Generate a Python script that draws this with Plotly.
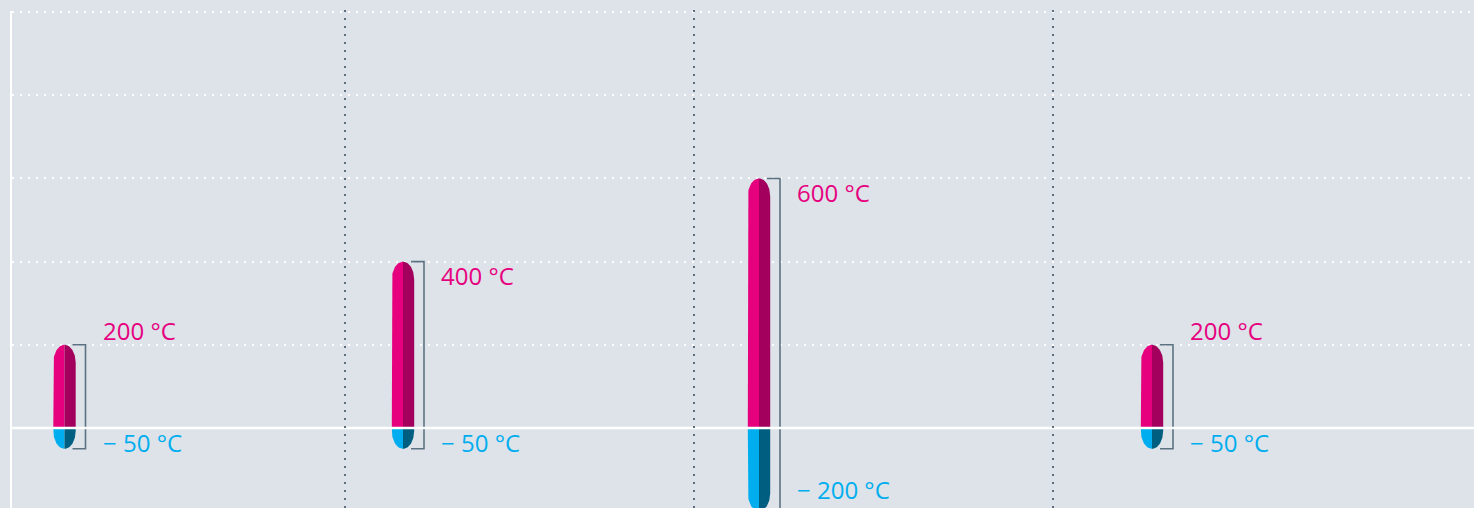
import numpy as np
import plotly.graph_objects as go

# ---------------- data ----------------
categories = ["Gerät 1", "Gerät 2", "Gerät 3", "Gerät 4"]
max_temp = [200, 400, 600, 200]
min_temp = [-50, -50, -200, -50]
max_labels = ["200 °C", "400 °C", "600 °C", "200 °C"]
min_labels = ["− 50 °C", "− 50 °C", "− 200 °C", "− 50 °C"]
grid_values = [200, 400, 600, 800, 1000]

# ---------------- layout constants ----------------
W, H = 1474, 508
ML, MT = 12, 11
Y_RANGE = [-192.3, 1002.5]
X_RANGE = [ML, W]
THERMO_X = [64.5, 403, 759, 1152]
DIVIDER_X = [345, 694, 1053]
HI_OFFSET = [35, -33, -33, 35]     # label offset (°C) relative to max
LO_OFFSET = [14, 14, 51, 14]       # label offset (°C) relative to min

BG = "#dde3e9"
PINK = "#e6007e"
PINK_DARK = "#a3005d"
BLUE = "#00aeef"
BLUE_DARK = "#005f80"
BRACKET = "#5c7282"
DIVIDER = "#5b6f7e"

R_PX = 11.2        # half width of the capsule (px)
CAP_PX = 18.0      # height of the rounded cap (px)
scale_y = (H - MT) / (Y_RANGE[1] - Y_RANGE[0])
RY = CAP_PX / scale_y

fig = go.Figure()


def half(cx, end, side, top=True, n=30):
    """Polygon of one half (left/right) of a capsule segment from 0 to end."""
    if top:
        c = end - RY
        t = np.linspace(np.pi, np.pi / 2, n) if side == "left" else np.linspace(np.pi / 2, 0, n)
    else:
        c = end + RY
        t = np.linspace(np.pi, 1.5 * np.pi, n) if side == "left" else np.linspace(1.5 * np.pi, 2 * np.pi, n)
    ax = cx + R_PX * np.cos(t)
    ay = c + RY * np.sin(t)
    if side == "left":
        xs = [cx - R_PX] + list(ax) + [cx]
    else:
        xs = [cx] + list(ax) + [cx + R_PX]
    ys = [0] + list(ay) + [0]
    return xs, ys


for i, cat in enumerate(categories):
    cx = THERMO_X[i]
    mx, mn = max_temp[i], min_temp[i]
    # bracket
    bx = cx + 21
    fig.add_trace(go.Scatter(
        x=[cx + 8, bx, bx, cx + 8], y=[mx, mx, mn, mn],
        mode="lines", line=dict(color=BRACKET, width=1.6),
        hoverinfo="skip", showlegend=False))
    # pink (positive) part
    for side, col in (("left", PINK), ("right", PINK_DARK)):
        xs, ys = half(cx, mx, side, top=True)
        fig.add_trace(go.Scatter(x=xs, y=ys, fill="toself", fillcolor=col,
                                 mode="lines", line=dict(width=0, color=col),
                                 hoverinfo="skip", showlegend=False, name=cat))
    # blue (negative) part
    for side, col in (("left", BLUE), ("right", BLUE_DARK)):
        xs, ys = half(cx, mn, side, top=False)
        fig.add_trace(go.Scatter(x=xs, y=ys, fill="toself", fillcolor=col,
                                 mode="lines", line=dict(width=0, color=col),
                                 hoverinfo="skip", showlegend=False, name=cat))
    # labels
    fig.add_annotation(x=cx + 36, y=mx + HI_OFFSET[i], text=max_labels[i],
                       xanchor="left", yanchor="middle", showarrow=False,
                       font=dict(family="Open Sans", size=24, color=PINK))
    fig.add_annotation(x=cx + 36, y=mn + LO_OFFSET[i], text=min_labels[i],
                       xanchor="left", yanchor="middle", showarrow=False,
                       font=dict(family="Open Sans", size=24, color=BLUE))

shapes = []
# zero line
shapes.append(dict(type="line", xref="paper", x0=0, x1=1, yref="y", y0=0, y1=0,
                   line=dict(color="white", width=2.5), layer="above"))
# dotted dividers
for dx in DIVIDER_X:
    shapes.append(dict(type="line", xref="x", x0=dx, x1=dx, yref="paper",
                       y0=0, y1=1.014,
                       line=dict(color=DIVIDER, width=2, dash="2px,6px"),
                       layer="above"))

fig.update_layout(
    width=W, height=H,
    margin=dict(l=ML, r=0, t=MT, b=0, pad=0),
    paper_bgcolor=BG, plot_bgcolor=BG,
    shapes=shapes,
    showlegend=False,
    xaxis=dict(range=X_RANGE, showgrid=False, zeroline=False,
               showticklabels=False, ticks="", showline=False, fixedrange=True),
    yaxis=dict(range=Y_RANGE, tickvals=grid_values, showgrid=True,
               gridcolor="white", gridwidth=2, griddash="2px,6px",
               zeroline=False, showticklabels=False, ticks="",
               showline=True, linecolor="white", linewidth=2, fixedrange=True),
)

fig.write_html("out.html",
               config={"displayModeBar": False},
               post_script="document.body.style.margin='0';"
                           "document.body.style.background='" + BG + "';")
